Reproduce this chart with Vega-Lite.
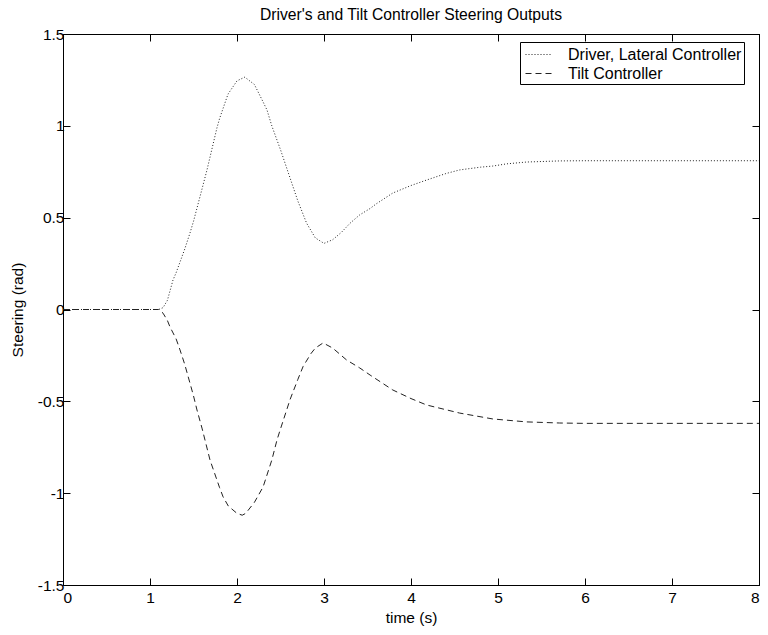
{
  "$schema": "https://vega.github.io/schema/vega-lite/v6.json",
  "width": 696,
  "height": 551,
  "autosize": {"type": "none"},
  "padding": {"left": 63, "top": 34, "right": 9, "bottom": 50},
  "background": "white",
  "config": {
    "font": "Liberation Sans",
    "view": {"stroke": "black", "strokeWidth": 1},
    "axis": {
      "domainColor": "black",
      "tickColor": "black",
      "labelColor": "black",
      "titleColor": "black",
      "labelFont": "Liberation Sans",
      "titleFont": "Liberation Sans",
      "labelFontSize": 15.5,
      "titleFontSize": 15.5,
      "titleFontWeight": "normal",
      "grid": false,
      "tickSize": -7,
      "labelPadding": 6,
      "labelExpr": "replace(format(datum.value, '~g'), '\u2212', '-')"
    },
    "legend": {
      "labelFont": "Liberation Sans",
      "labelFontSize": 16,
      "labelColor": "black"
    }
  },
  "title": {
    "text": "Driver's and Tilt Controller Steering Outputs",
    "font": "Liberation Sans",
    "fontSize": 15.7,
    "fontWeight": "normal",
    "color": "black",
    "anchor": "middle",
    "offset": 3
  },
  "data": {
    "values": [
      {"t": 0, "v": 0, "s": "Driver, Lateral Controller"},
      {"t": 1.1, "v": 0, "s": "Driver, Lateral Controller"},
      {"t": 1.15, "v": 0.01, "s": "Driver, Lateral Controller"},
      {"t": 1.2, "v": 0.05, "s": "Driver, Lateral Controller"},
      {"t": 1.264, "v": 0.16, "s": "Driver, Lateral Controller"},
      {"t": 1.3, "v": 0.2, "s": "Driver, Lateral Controller"},
      {"t": 1.4, "v": 0.33, "s": "Driver, Lateral Controller"},
      {"t": 1.46, "v": 0.417, "s": "Driver, Lateral Controller"},
      {"t": 1.5, "v": 0.48, "s": "Driver, Lateral Controller"},
      {"t": 1.6, "v": 0.66, "s": "Driver, Lateral Controller"},
      {"t": 1.655, "v": 0.76, "s": "Driver, Lateral Controller"},
      {"t": 1.7, "v": 0.85, "s": "Driver, Lateral Controller"},
      {"t": 1.77, "v": 0.99, "s": "Driver, Lateral Controller"},
      {"t": 1.8, "v": 1.04, "s": "Driver, Lateral Controller"},
      {"t": 1.885, "v": 1.157, "s": "Driver, Lateral Controller"},
      {"t": 1.9, "v": 1.175, "s": "Driver, Lateral Controller"},
      {"t": 2.0, "v": 1.245, "s": "Driver, Lateral Controller"},
      {"t": 2.09, "v": 1.265, "s": "Driver, Lateral Controller"},
      {"t": 2.2, "v": 1.225, "s": "Driver, Lateral Controller"},
      {"t": 2.3, "v": 1.13, "s": "Driver, Lateral Controller"},
      {"t": 2.345, "v": 1.086, "s": "Driver, Lateral Controller"},
      {"t": 2.4, "v": 1.0, "s": "Driver, Lateral Controller"},
      {"t": 2.5, "v": 0.87, "s": "Driver, Lateral Controller"},
      {"t": 2.6, "v": 0.73, "s": "Driver, Lateral Controller"},
      {"t": 2.7, "v": 0.59, "s": "Driver, Lateral Controller"},
      {"t": 2.8, "v": 0.47, "s": "Driver, Lateral Controller"},
      {"t": 2.9, "v": 0.39, "s": "Driver, Lateral Controller"},
      {"t": 3.0, "v": 0.36, "s": "Driver, Lateral Controller"},
      {"t": 3.1, "v": 0.38, "s": "Driver, Lateral Controller"},
      {"t": 3.2, "v": 0.42, "s": "Driver, Lateral Controller"},
      {"t": 3.3, "v": 0.47, "s": "Driver, Lateral Controller"},
      {"t": 3.41, "v": 0.515, "s": "Driver, Lateral Controller"},
      {"t": 3.53, "v": 0.55, "s": "Driver, Lateral Controller"},
      {"t": 3.6, "v": 0.575, "s": "Driver, Lateral Controller"},
      {"t": 3.79, "v": 0.634, "s": "Driver, Lateral Controller"},
      {"t": 4.0, "v": 0.675, "s": "Driver, Lateral Controller"},
      {"t": 4.18, "v": 0.705, "s": "Driver, Lateral Controller"},
      {"t": 4.4, "v": 0.74, "s": "Driver, Lateral Controller"},
      {"t": 4.56, "v": 0.76, "s": "Driver, Lateral Controller"},
      {"t": 4.8, "v": 0.775, "s": "Driver, Lateral Controller"},
      {"t": 4.94, "v": 0.781, "s": "Driver, Lateral Controller"},
      {"t": 5.1, "v": 0.793, "s": "Driver, Lateral Controller"},
      {"t": 5.33, "v": 0.803, "s": "Driver, Lateral Controller"},
      {"t": 5.71, "v": 0.809, "s": "Driver, Lateral Controller"},
      {"t": 6.0, "v": 0.81, "s": "Driver, Lateral Controller"},
      {"t": 7.0, "v": 0.81, "s": "Driver, Lateral Controller"},
      {"t": 8.0, "v": 0.81, "s": "Driver, Lateral Controller"},
      {"t": 0, "v": 0, "s": "Tilt Controller"},
      {"t": 1.1, "v": 0, "s": "Tilt Controller"},
      {"t": 1.15, "v": -0.02, "s": "Tilt Controller"},
      {"t": 1.2, "v": -0.06, "s": "Tilt Controller"},
      {"t": 1.23, "v": -0.095, "s": "Tilt Controller"},
      {"t": 1.3, "v": -0.16, "s": "Tilt Controller"},
      {"t": 1.345, "v": -0.22, "s": "Tilt Controller"},
      {"t": 1.4, "v": -0.3, "s": "Tilt Controller"},
      {"t": 1.5, "v": -0.47, "s": "Tilt Controller"},
      {"t": 1.54, "v": -0.547, "s": "Tilt Controller"},
      {"t": 1.6, "v": -0.65, "s": "Tilt Controller"},
      {"t": 1.69, "v": -0.82, "s": "Tilt Controller"},
      {"t": 1.8, "v": -0.97, "s": "Tilt Controller"},
      {"t": 1.84, "v": -1.02, "s": "Tilt Controller"},
      {"t": 1.9, "v": -1.07, "s": "Tilt Controller"},
      {"t": 2.0, "v": -1.11, "s": "Tilt Controller"},
      {"t": 2.06, "v": -1.12, "s": "Tilt Controller"},
      {"t": 2.1, "v": -1.11, "s": "Tilt Controller"},
      {"t": 2.2, "v": -1.05, "s": "Tilt Controller"},
      {"t": 2.3, "v": -0.966, "s": "Tilt Controller"},
      {"t": 2.4, "v": -0.82, "s": "Tilt Controller"},
      {"t": 2.46, "v": -0.71, "s": "Tilt Controller"},
      {"t": 2.5, "v": -0.65, "s": "Tilt Controller"},
      {"t": 2.61, "v": -0.49, "s": "Tilt Controller"},
      {"t": 2.7, "v": -0.38, "s": "Tilt Controller"},
      {"t": 2.76, "v": -0.31, "s": "Tilt Controller"},
      {"t": 2.85, "v": -0.24, "s": "Tilt Controller"},
      {"t": 2.9, "v": -0.21, "s": "Tilt Controller"},
      {"t": 2.99, "v": -0.182, "s": "Tilt Controller"},
      {"t": 3.1, "v": -0.21, "s": "Tilt Controller"},
      {"t": 3.26, "v": -0.275, "s": "Tilt Controller"},
      {"t": 3.41, "v": -0.318, "s": "Tilt Controller"},
      {"t": 3.53, "v": -0.357, "s": "Tilt Controller"},
      {"t": 3.79, "v": -0.438, "s": "Tilt Controller"},
      {"t": 4.0, "v": -0.485, "s": "Tilt Controller"},
      {"t": 4.18, "v": -0.52, "s": "Tilt Controller"},
      {"t": 4.56, "v": -0.564, "s": "Tilt Controller"},
      {"t": 4.94, "v": -0.596, "s": "Tilt Controller"},
      {"t": 5.33, "v": -0.612, "s": "Tilt Controller"},
      {"t": 5.71, "v": -0.618, "s": "Tilt Controller"},
      {"t": 6.0, "v": -0.62, "s": "Tilt Controller"},
      {"t": 7.0, "v": -0.62, "s": "Tilt Controller"},
      {"t": 8.0, "v": -0.62, "s": "Tilt Controller"}
    ]
  },
  "layer": [
    {
      "mark": {"type": "line", "strokeWidth": 1, "clip": true, "stroke": "#222222"},
      "encoding": {
        "x": {
          "field": "t", "type": "quantitative",
          "scale": {"domain": [0, 8], "nice": false, "zero": false},
          "axis": {"orient": "bottom", "title": "time (s)", "values": [0,1,2,3,4,5,6,7,8], "titlePadding": 5, "labelPadding": 12}
        },
        "y": {
          "field": "v", "type": "quantitative",
          "scale": {"domain": [-1.5, 1.5], "nice": false, "zero": false},
          "axis": {"orient": "left", "title": "Steering (rad)", "values": [-1.5,-1,-0.5,0,0.5,1,1.5], "titlePadding": 12}
        },
        "strokeDash": {
          "field": "s", "type": "nominal",
          "scale": {"range": [[1, 2], [6, 4]]},
          "legend": {
            "title": null,
            "orient": "none",
            "legendX": 457,
            "legendY": 8,
            "strokeColor": "black",
            "fillColor": "white",
            "padding": 2,
            "symbolType": "M-1.3,0H1.3",
            "symbolSize": 400,
            "symbolFillColor": "transparent",
            "symbolStrokeColor": "#222222",
            "symbolStrokeWidth": 1,
            "symbolOffset": 6,
            "labelOffset": 19,
            "labelLimit": 400,
            "labelExpr": "datum.label + '\u00a0\u00a0'",
            "rowPadding": 0,
            "cornerRadius": 0
          }
        }
      }
    },
    {
      "mark": {"type": "line", "opacity": 0},
      "encoding": {
        "x": {
          "field": "t", "type": "quantitative",
          "axis": {"orient": "top", "title": null, "labels": false, "values": [0,1,2,3,4,5,6,7,8]}
        },
        "y": {
          "field": "v", "type": "quantitative",
          "axis": {"orient": "right", "title": null, "labels": false, "values": [-1.5,-1,-0.5,0,0.5,1,1.5]}
        },
        "detail": {"field": "s"}
      }
    }
  ],
  "resolve": {"axis": {"x": "independent", "y": "independent"}}
}
